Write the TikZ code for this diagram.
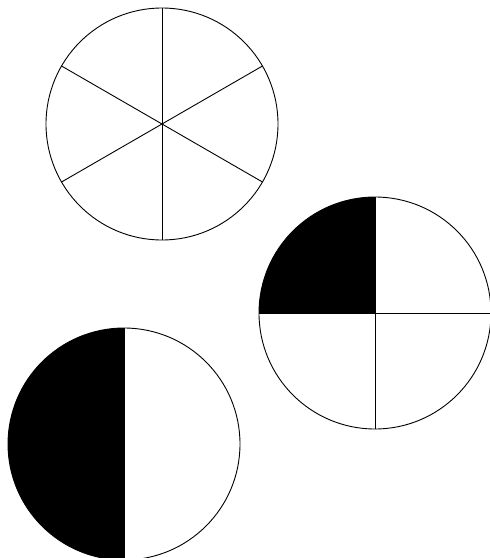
\documentclass[tikz,border=0pt]{standalone}
\begin{document}
\begin{tikzpicture}[x=1pt,y=-1pt,line width=0.9pt,
  disk/.style={draw=black}]
\useasboundingbox (0,0) rectangle (490,558);
% circle 1: sextants
\coordinate (c1) at (162,124);
\draw[disk] (c1) circle (116);
\foreach \a in {30,90,150,210,270,330}
  \draw (c1) -- ++(\a:116);
% circle 2: quarters, top-left black
\coordinate (c2) at (375,313);
\fill[black] (c2) -- ++(-116,0) arc[start angle=180,end angle=270,radius=116] -- cycle;
\draw[disk] (c2) circle (116);
\draw (c2) ++(-116,0) -- ++(232,0);
\draw (c2) ++(0,-116) -- ++(0,232);
% circle 3: halves, left black
\coordinate (c3) at (124,444);
\fill[black] (c3) ++(0,-116) arc[start angle=270,end angle=90,radius=116] -- cycle;
\draw[disk] (c3) circle (116);
\draw (c3) ++(0,-116) -- ++(0,232);
\end{tikzpicture}
\end{document}
